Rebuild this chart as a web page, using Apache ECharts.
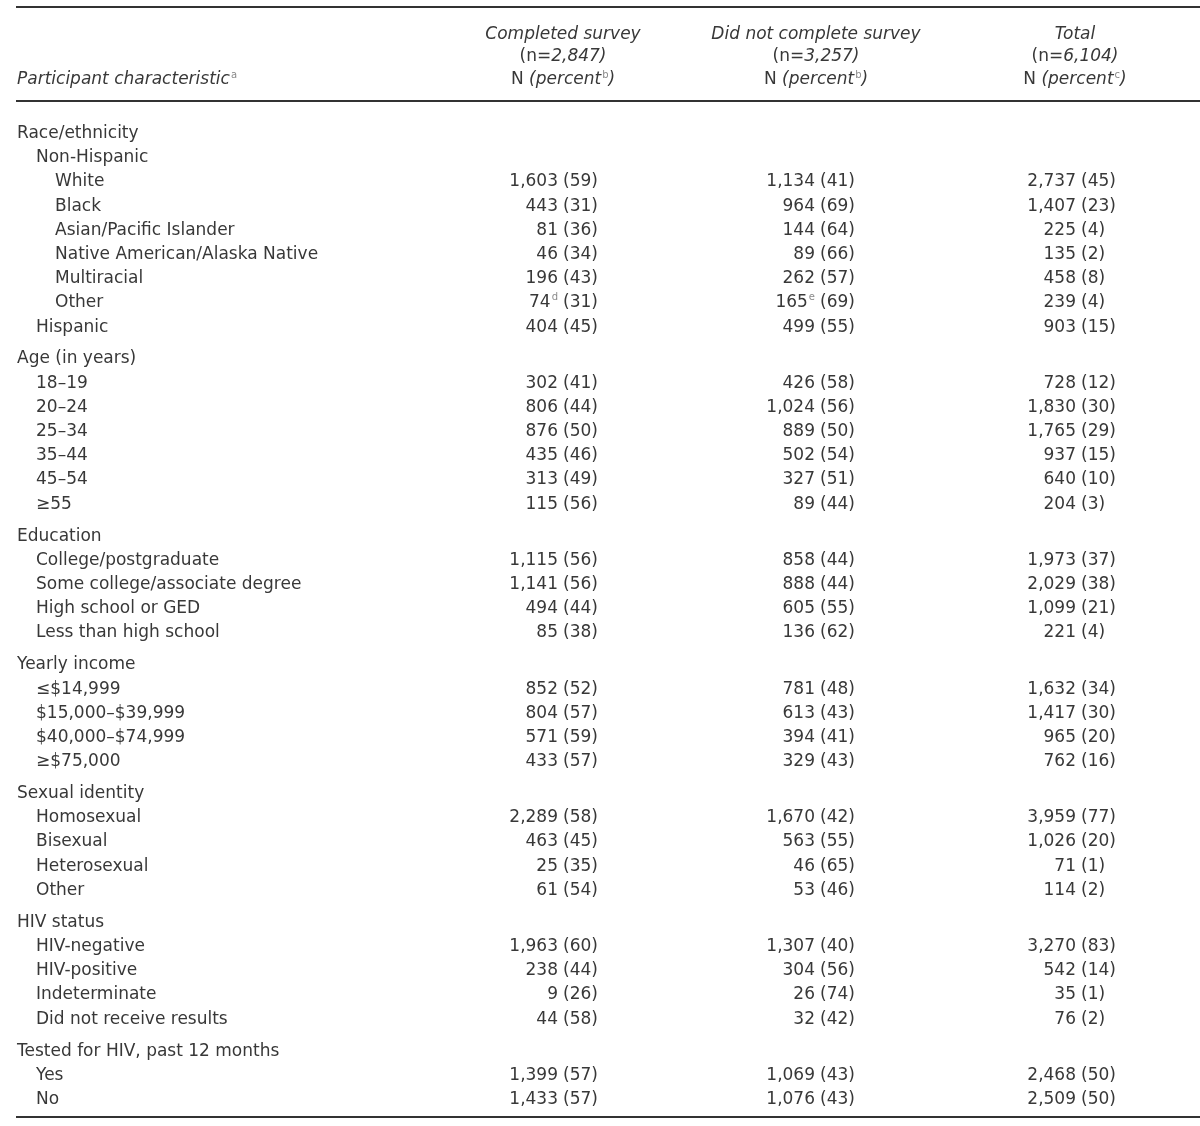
<!DOCTYPE html>
<html>
<head>
<meta charset="utf-8">
<script src="https://cdn.jsdelivr.net/npm/echarts@6/dist/echarts.min.js"></script>
<style>html,body{margin:0;padding:0;background:#fff}#c{width:1200px;height:1126px}</style>
</head>
<body>
<div id="c"></div>
<script>
// ---- data ----
const labels = [
  'Race/ethnicity','Non-Hispanic','White','Black','Asian/Pacific Islander','Native American/Alaska Native','Multiracial','Other','Hispanic',
  'Age (in years)','18–19','20–24','25–34','35–44','45–54','≥55',
  'Education','College/postgraduate','Some college/associate degree','High school or GED','Less than high school',
  'Yearly income','≤$14,999','$15,000–$39,999','$40,000–$74,999','≥$75,000',
  'Sexual identity','Homosexual','Bisexual','Heterosexual','Other',
  'HIV status','HIV-negative','HIV-positive','Indeterminate','Did not receive results',
  'Tested for HIV, past 12 months','Yes','No'
];
const levels = [0,1,2,2,2,2,2,2,1, 0,1,1,1,1,1,1, 0,1,1,1,1, 0,1,1,1,1, 0,1,1,1,1, 0,1,1,1,1, 0,1,1];
const completedN   = [null,null,1603,443,81,46,196,74,404, null,302,806,876,435,313,115, null,1115,1141,494,85, null,852,804,571,433, null,2289,463,25,61, null,1963,238,9,44, null,1399,1433];
const completedPct = [null,null,59,31,36,34,43,31,45, null,41,44,50,46,49,56, null,56,56,44,38, null,52,57,59,57, null,58,45,35,54, null,60,44,26,58, null,57,57];
const notN         = [null,null,1134,964,144,89,262,165,499, null,426,1024,889,502,327,89, null,858,888,605,136, null,781,613,394,329, null,1670,563,46,53, null,1307,304,26,32, null,1069,1076];
const notPct       = [null,null,41,69,64,66,57,69,55, null,58,56,50,54,51,44, null,44,44,55,62, null,48,43,41,43, null,42,55,65,46, null,40,56,74,42, null,43,43];
const totalN       = [null,null,2737,1407,225,135,458,239,903, null,728,1830,1765,937,640,204, null,1973,2029,1099,221, null,1632,1417,965,762, null,3959,1026,71,114, null,3270,542,35,76, null,2468,2509];
const totalPct     = [null,null,45,23,4,2,8,4,15, null,12,30,29,15,10,3, null,37,38,21,4, null,34,30,20,16, null,77,20,1,2, null,83,14,1,2, null,50,50];
const completedNote = labels.map((l,i)=> i===7 ? 'd' : '');
const notNote       = labels.map((l,i)=> i===7 ? 'e' : '');
const headerTitles = ['Completed survey','Did not complete survey','Total'];
const headerCounts = ['2,847)','3,257)','6,104)'];
const headerNotes  = ['b','b','c'];

// ---- layout / style ----
const FONT = '"DejaVu Sans", "Open Sans", sans-serif';
const FS = 17;
const COLOR = '#383838';
const NOTE_COLOR = '#8a8a8a';
const indentX = [17, 36, 55];
const splitX = [558, 815, 1076];
const headerX = [563, 816, 1075];
const GROUP_GAP = 0.32;
const ROW_PX = 24.2;
const FIRST_ROW_PX = 133.5;

// row positions in row units (index + group gaps)
let g = -1;
const rowY = labels.map((l,i)=>{ if (levels[i]===0) g++; return i + g*GROUP_GAP; });
const cols = [[completedN,completedPct,completedNote],[notN,notPct,notNote],[totalN,totalPct,labels.map(()=> '')]];
const fmt = v => v.toLocaleString('en-US');
const supStyle = {fontSize:10, fontFamily:FONT, fill:NOTE_COLOR, color:NOTE_COLOR, verticalAlign:'top', lineHeight:20, padding:[0,0,8,1]};

const chart = echarts.init(document.getElementById('c'), null, {renderer:'canvas'});
const H = 1126;
const option = {
  backgroundColor: '#fff',
  animation: false,
  grid: {left:0, right:0, top:0, bottom:0},
  xAxis: {type:'value', min:0, max:1200, show:false},
  yAxis: {type:'value', inverse:true, min:-FIRST_ROW_PX/ROW_PX, max:(H-FIRST_ROW_PX)/ROW_PX, show:false},
  series: [{
    type:'custom',
    data: rowY.map(y=>[0,y]),
    renderItem: function(params, api){
      const i = params.dataIndex;
      const y = api.value(1);
      const children = [];
      const lp = api.coord([indentX[levels[i]], y]);
      children.push({type:'text', style:{text:labels[i], x:lp[0], y:lp[1], align:'left', verticalAlign:'middle', font: FS+'px '+FONT, fill:COLOR}});
      cols.forEach((c, k)=>{
        if (c[0][i]==null) return;
        const p = api.coord([splitX[k], y]);
        const note = c[2][i];
        children.push({type:'text', style:{
          text: '{n|'+fmt(c[0][i])+'}' + (note ? '{s|'+note+'}' : ''),
          x:p[0], y:p[1], align:'right', verticalAlign:'middle',
          rich:{ n:{fontSize:FS, fontFamily:FONT, fill:COLOR, color:COLOR, lineHeight:20}, s:supStyle }
        }});
        children.push({type:'text', style:{text:'('+c[1][i]+')', x:p[0]+5, y:p[1], align:'left', verticalAlign:'middle', font: FS+'px '+FONT, fill:COLOR}});
      });
      return {type:'group', children};
    }
  }],
  graphic: [
    {type:'rect', shape:{x:16, y:6, width:1184, height:2}, style:{fill:'#333'}},
    {type:'rect', shape:{x:16, y:100, width:1184, height:2}, style:{fill:'#333'}},
    {type:'rect', shape:{x:16, y:1116, width:1184, height:2}, style:{fill:'#333'}},
    {type:'text', style:{text:'{i|Participant characteristic}{s|a}', x:17, y:80, verticalAlign:'middle',
      rich:{i:{fontSize:FS, fontFamily:FONT, fontStyle:'italic', fill:COLOR, color:COLOR, lineHeight:20}, s:supStyle}}},
    ...headerTitles.map((t,k)=>({
      type:'group', children:[
        {type:'text', style:{text:t, x:headerX[k], y:35, align:'center', verticalAlign:'middle', font:'italic '+FS+'px '+FONT, fill:COLOR}},
        {type:'text', style:{text:'{u|(n=}{i|'+headerCounts[k]+'}', x:headerX[k], y:57, align:'center', verticalAlign:'middle',
          rich:{u:{fontSize:FS, fontFamily:FONT, color:COLOR, fill:COLOR}, i:{fontSize:FS, fontFamily:FONT, fontStyle:'italic', color:COLOR, fill:COLOR}}}},
        {type:'text', style:{text:'{u|N }{i|(percent}{s|'+headerNotes[k]+'}{i|)}', x:headerX[k], y:80, align:'center', verticalAlign:'middle',
          rich:{u:{fontSize:FS, fontFamily:FONT, color:COLOR, fill:COLOR, lineHeight:20}, i:{fontSize:FS, fontFamily:FONT, fontStyle:'italic', color:COLOR, fill:COLOR, lineHeight:20}, s:supStyle}}}
      ]}))
  ]
};
chart.setOption(option);
</script>
</body>
</html>
